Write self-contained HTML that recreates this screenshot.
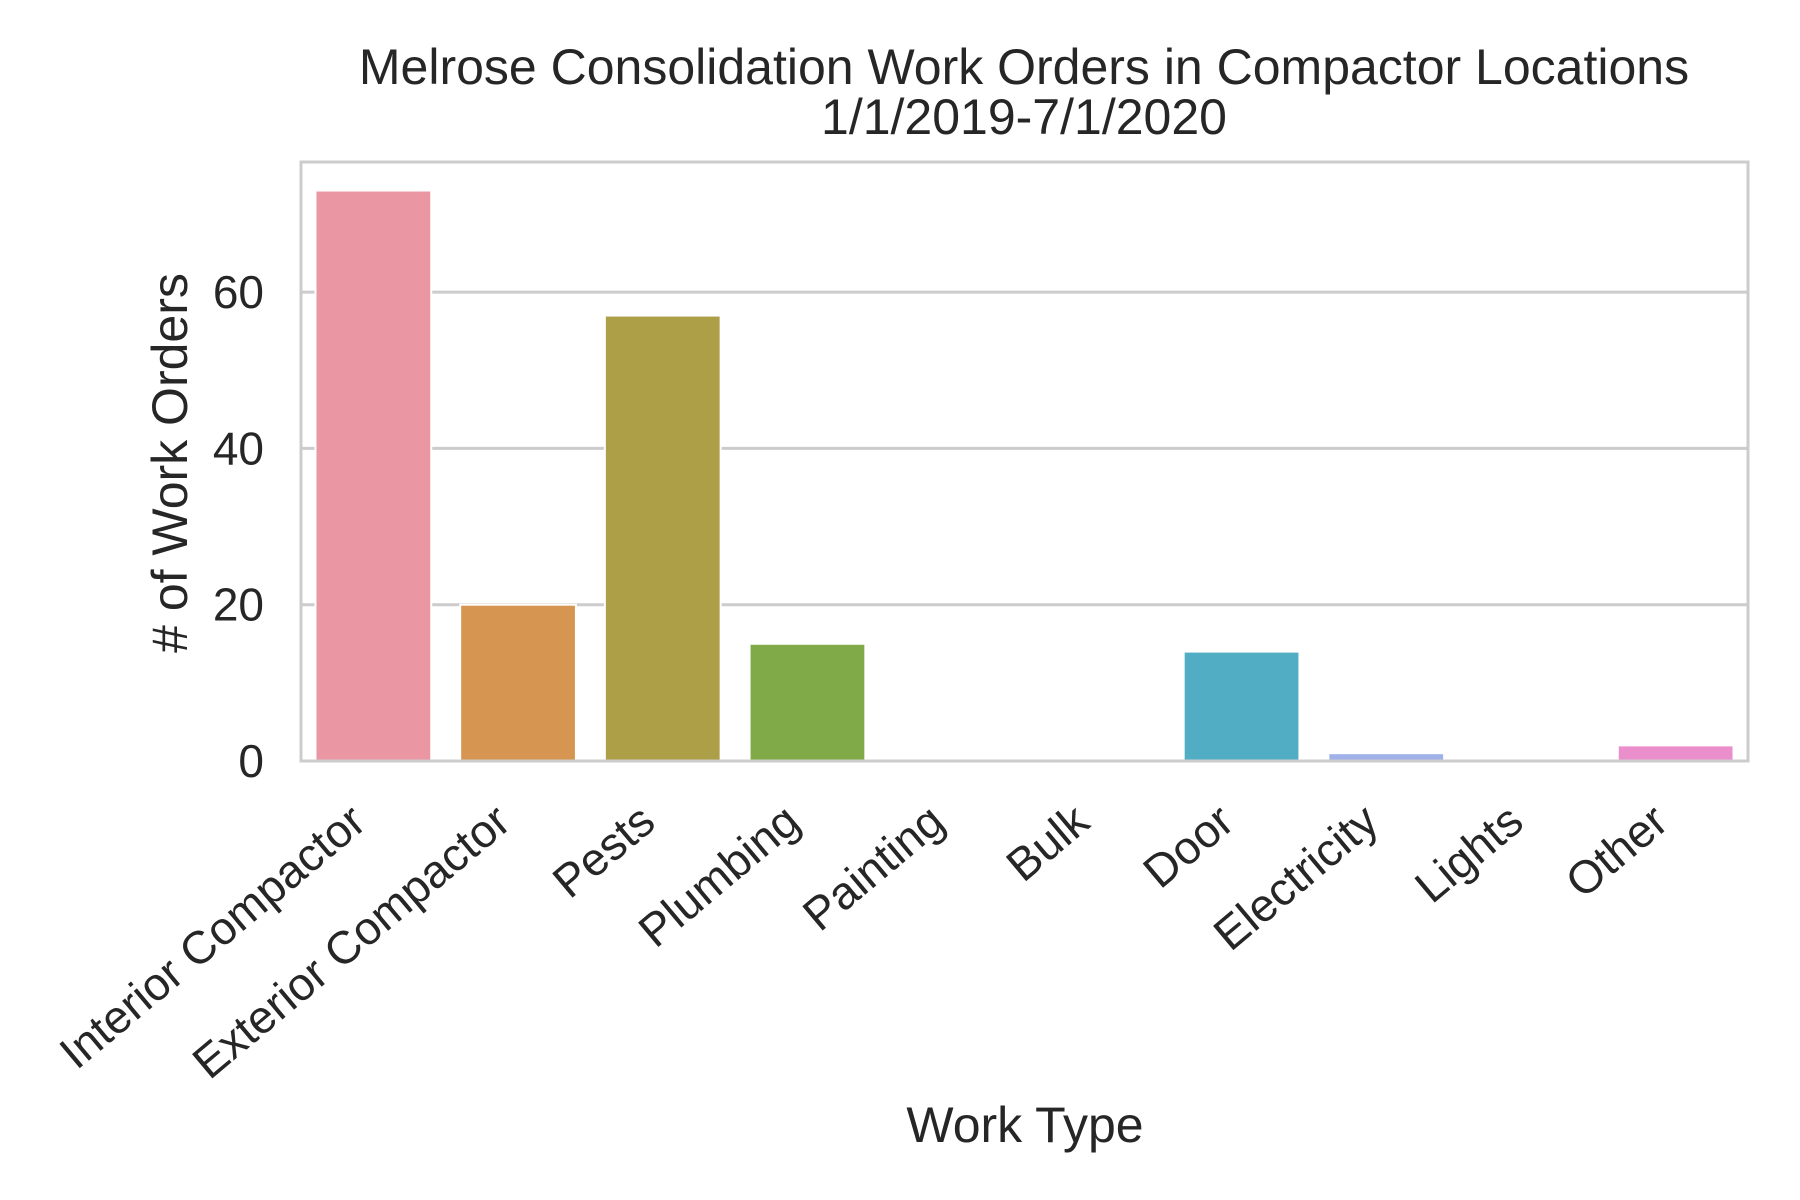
<!DOCTYPE html>
<html><head><meta charset="utf-8"><style>
html,body{margin:0;padding:0;background:#fff}
svg{display:block}
text{font-family:"Liberation Sans",Arial,sans-serif;fill:#262626}
</style></head><body>
<svg id="chart" width="1800" height="1200" viewBox="0 0 1800 1200" xmlns="http://www.w3.org/2000/svg">
<g id="grid"></g>
<g id="bars"></g>
<rect x="301" y="162" width="1447" height="599" fill="none" stroke="#cccccc" stroke-width="3"/>
<g id="yticks"></g>
<g id="xticks"></g>
<text x="1024" y="84" font-size="50" text-anchor="middle">Melrose Consolidation Work Orders in Compactor Locations</text>
<text x="1024" y="134" font-size="50" text-anchor="middle">1/1/2019-7/1/2020</text>
<text x="1025" y="1142" font-size="50" text-anchor="middle">Work Type</text>
<text x="0" y="0" font-size="50" text-anchor="middle" transform="translate(187,463) rotate(-90)"># of Work Orders</text>
</svg>
<script>
const categories = ["Interior Compactor","Exterior Compactor","Pests","Plumbing","Painting","Bulk","Door","Electricity","Lights","Other"];
const values = [73,20,57,15,0,0,14,1,0,2];
const colors = ["#ea96a3","#d69551","#ad9e48","#80aa47","#4fb07f","#52afa8","#51adc4","#9fb1e8","#c59be6","#ea8fcb"];
const yTicks = [0,20,40,60];

const NS="http://www.w3.org/2000/svg";
const L=301,R=1748,T=162,B=761;
const yMax=Math.max(...values)*1.05;
const y=v=>B-(v/yMax)*(B-T);
const step=(R-L)/categories.length;
const x=i=>L+step*(i+0.5);
function mk(tag,attrs,parent){const e=document.createElementNS(NS,tag);for(const k in attrs)e.setAttribute(k,attrs[k]);parent.appendChild(e);return e;}
const grid=document.getElementById('grid'),bars=document.getElementById('bars'),yt=document.getElementById('yticks'),xt=document.getElementById('xticks');
yTicks.forEach(t=>{
  const ln=mk('line',{x1:L,x2:R,y1:y(t),y2:y(t),stroke:'#cccccc','stroke-width':3},grid);
  
  
  const tx=mk('text',{x:264,y:y(t)+16,'font-size':46,'text-anchor':'end'},yt);
  tx.textContent=t;
  
  
});
categories.forEach((c,i)=>{
  const w=step*0.8;
  const r=mk('rect',{x:x(i)-w/2,y:y(values[i]),width:w,height:B-y(values[i]),fill:colors[i],stroke:'#ffffff','stroke-width':2},bars);
  
  
  const px=x(i)-5,py=826;
  const tx=mk('text',{x:0,y:0,'font-size':46,'text-anchor':'end',transform:`translate(${px},${py}) rotate(-40)`},xt);
  tx.textContent=c;
  
  
});
</script>
</body></html>
